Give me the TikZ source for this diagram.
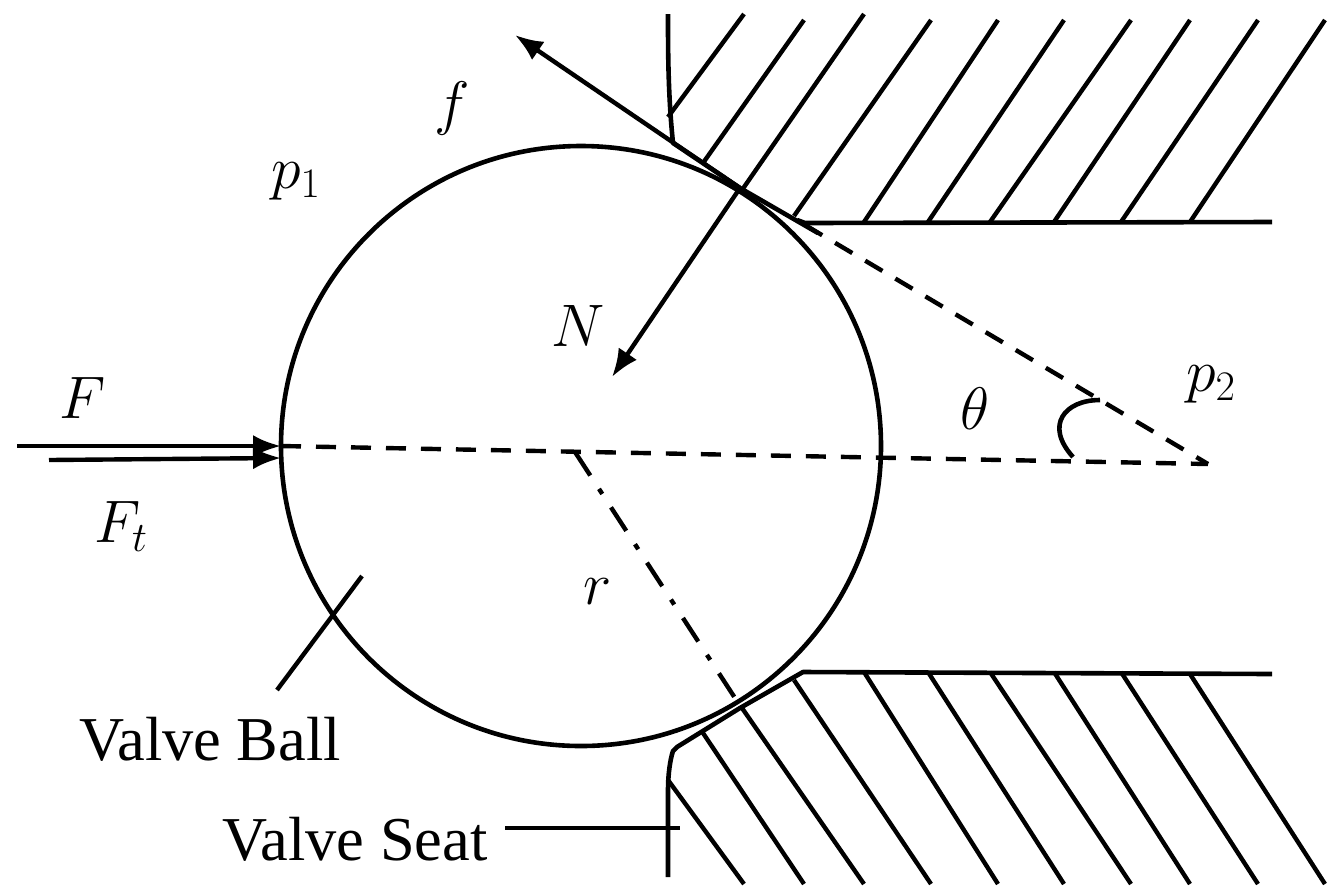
\documentclass[tikz,border=0pt]{standalone}
\usepackage{fix-cm}
\usepackage{amsmath,amsfonts,amssymb}
\usepackage{fontspec}
\setmainfont{Liberation Serif}
\usetikzlibrary{arrows.meta}
\tikzset{
   wall/.style={line width=2.3pt, line join=round},
   hatch/.style={line width=2.2pt},
   force/.style={line width=2.2pt, -{Latex[length=14pt,width=11pt]}},
   axisline/.style={line width=2.2pt, dash pattern=on 10pt off 7.5pt},
   radius line/.style={line width=2.2pt, dash pattern=on 14pt off 8pt on 3pt off 8pt},
   symbol/.style={font=\fontsize{30}{36}\selectfont, inner sep=0pt},
   caption/.style={font=\fontsize{31.2}{36}\selectfont, inner sep=0pt},
    }

\begin{document}
\begin{tikzpicture}[x=0.5pt, y=-0.5pt]
    \useasboundingbox (0,0) rectangle (1339,891);
    % valve ball
    \node[circle, draw, line width=2.3pt, minimum size=300pt, inner sep=0pt] (ball) at (581,446) {};
    \coordinate (centre) at (575,452);
    \coordinate (contact) at (740,188);
    \coordinate (lip) at (805,225);
    % valve seat, upper and lower
    \draw[wall] (668,14) .. controls (668,50) and (668,95) .. (673,143) -- (contact) -- (818,233);
    \draw[wall] (797,220) -- (805,223) -- (1272,222);
    \draw[wall] (668,877) -- (668,790) .. controls (668,775) and (670,760) .. (673,751) -- (677,747) -- (740,708) -- (803,672) -- (1272,674);
    \foreach \xa/\ya/\xb/\yb in {668/117/744/14, 703/163/804/20, 742/190/864/14, 794/216/931/20,
        864/222/998/20, 928/222/1064/20, 990/222/1131/20, 1054/222/1190/20, 1121/222/1258/20, 1190/222/1325/20}
        \draw[hatch] (\xa,\ya) -- (\xb,\yb);
    \foreach \xa/\ya/\xb/\yb in {668/780/744/884, 703/733/804/884, 742/708/864/884, 794/680/931/884,
        864/672/998/884, 928/672/1064/884, 990/672/1131/884, 1054/672/1190/884, 1121/672/1258/884, 1190/674/1325/884}
        \draw[hatch] (\xa,\ya) -- (\xb,\yb);
    % forces
    \coordinate (tangent end) at (515,35);
    \coordinate (normal end) at (612,377);
    \coordinate (F start) at (17,446);
    \coordinate (F end) at (281,446);
    \coordinate (Ft start) at (49,460);
    \coordinate (Ft end) at (281,458);
    \draw[force] (contact) -- (tangent end);
    \draw[force] (contact) -- (normal end);
    \draw[force] (F start) -- (F end);
    \draw[force] (Ft start) -- (Ft end);
    % construction lines
    \coordinate (apex) at (1208,464);
    \coordinate (rim) at (735,698);
    \draw[axisline] (F end) -- (apex);
    \draw[axisline] (lip) -- (apex);
    \draw[radius line] (centre) -- (rim);
    \coordinate (arc a) at (1100,400);
    \coordinate (arc b) at (1073,457);
    \draw[wall] (arc a) .. controls (1065,400) and (1044,425) .. (arc b);
    % leaders
    \coordinate (ball lead a) at (362,576);
    \coordinate (ball lead b) at (277,690);
    \coordinate (seat lead a) at (505,828);
    \coordinate (seat lead b) at (680,828);
    \draw[hatch] (ball lead a) -- (ball lead b);
    \draw[hatch] (seat lead a) -- (seat lead b);
    % labels
    \node[symbol] (f) at (452,108) {$f$};
    \node[symbol] (p1) at (296,181) {$p_1$};
    \node[symbol] (N) at (578,326) {$N$};
    \node[symbol] (F) at (83,398) {$F$};
    \node[symbol] (Ft) at (121,526) {$F_t$};
    \node[symbol] (r) at (598,592) {$r$};
    \node[symbol] (theta) at (975,409) {$\theta$};
    \node[symbol] (p2) at (1211,384) {$p_2$};
    \node[caption] (ballname) at (210,739) {Valve Ball};
    \node[caption] (seatname) at (355,839) {Valve Seat};
\end{tikzpicture}
\end{document}
